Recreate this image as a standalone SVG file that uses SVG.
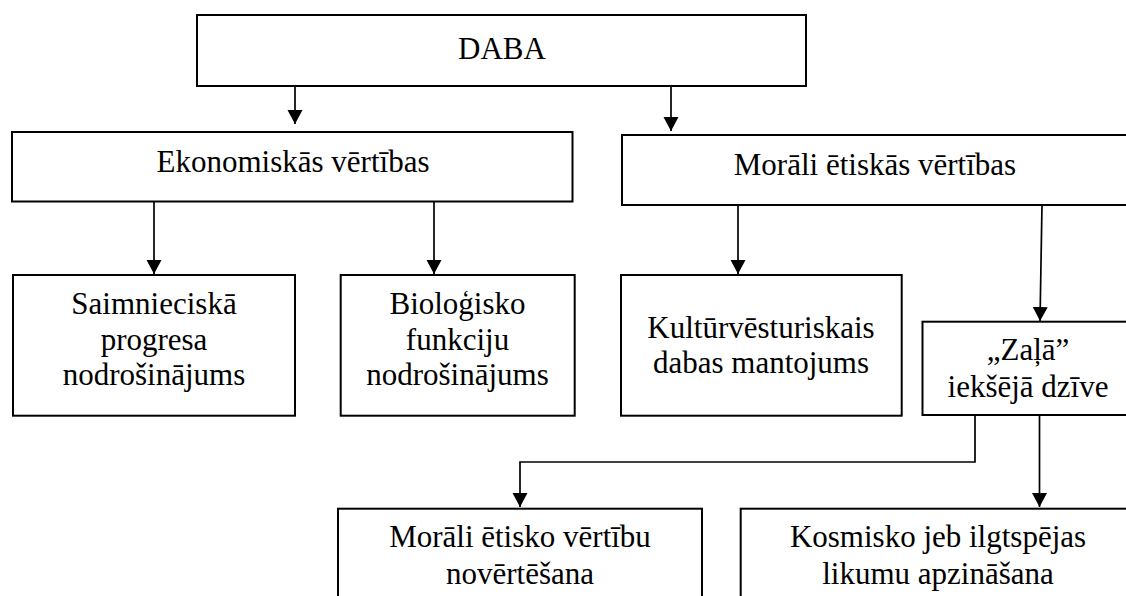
<svg xmlns="http://www.w3.org/2000/svg" width="1126" height="596" viewBox="0 0 1126 596">
<style>
.box{fill:#fff;stroke:#000;stroke-width:2}
.t{font-family:'Liberation Serif','DejaVu Serif',serif;font-size:31px;fill:#000;text-anchor:middle}
.c{fill:none;stroke:#000;stroke-width:1.7}
</style>
<defs>
<marker id="ah" markerUnits="userSpaceOnUse" markerWidth="15" markerHeight="16" refX="14" refY="7.5" orient="auto" viewBox="0 0 15 15">
<path d="M0,0 L14,7.5 L0,15 z" fill="#000"/>
</marker>
</defs>
<rect width="1126" height="596" fill="#fff"/>
<g id="connectors">
<line class="c" x1="295" y1="86" x2="295" y2="124" marker-end="url(#ah)"/>
<line class="c" x1="671" y1="86" x2="671" y2="131" marker-end="url(#ah)"/>
<line class="c" x1="154" y1="202" x2="154" y2="274" marker-end="url(#ah)"/>
<line class="c" x1="434" y1="202" x2="434" y2="274" marker-end="url(#ah)"/>
<line class="c" x1="738" y1="205" x2="738" y2="274" marker-end="url(#ah)"/>
<line class="c" x1="1042" y1="205" x2="1040" y2="321" marker-end="url(#ah)"/>
<polyline class="c" points="975,415 975,462 520,462 520,507" marker-end="url(#ah)"/>
<line class="c" x1="1039.5" y1="415" x2="1039.5" y2="507" marker-end="url(#ah)"/>
</g>
<g id="daba">
<rect class="box" x="197" y="15" width="609" height="71"/>
<text class="t" x="502" y="59" font-family="Liberation Serif">DABA</text>
</g>
<g id="ekonomiskas">
<rect class="box" x="12" y="132" width="560.5" height="69.5"/>
<text class="t" x="293" y="172">Ekonomiskās vērtības</text>
</g>
<g id="morali">
<rect class="box" x="622" y="135" width="508" height="70"/>
<text class="t" x="875" y="175">Morāli ētiskās vērtības</text>
</g>
<g id="saimnieciska">
<rect class="box" x="13" y="275" width="282" height="140.7"/>
<text class="t" x="154" y="314">Saimnieciskā</text>
<text class="t" x="154" y="350">progresa</text>
<text class="t" x="154" y="385">nodrošinājums</text>
</g>
<g id="biologisko">
<rect class="box" x="340.7" y="275" width="234" height="140.7"/>
<text class="t" x="457.5" y="314">Bioloģisko</text>
<text class="t" x="457.5" y="350">funkciju</text>
<text class="t" x="457.5" y="385">nodrošinājums</text>
</g>
<g id="kulturvesturiskais">
<rect class="box" x="621" y="275" width="280.7" height="140.7"/>
<text class="t" x="761" y="338">Kultūrvēsturiskais</text>
<text class="t" x="761" y="373">dabas mantojums</text>
</g>
<g id="zala">
<rect class="box" x="922.5" y="321.7" width="212" height="93.3"/>
<text class="t" x="1028" y="360">„Zaļā”</text>
<text class="t" x="1028" y="397">iekšējā dzīve</text>
</g>
<g id="novertesana">
<rect class="box" x="338" y="508.7" width="364" height="120"/>
<text class="t" x="520" y="547">Morāli ētisko vērtību</text>
<text class="t" x="520" y="584">novērtēšana</text>
</g>
<g id="kosmisko">
<rect class="box" x="740.7" y="508.7" width="400" height="120"/>
<text class="t" x="938" y="547">Kosmisko jeb ilgtspējas</text>
<text class="t" x="938" y="584">likumu apzināšana</text>
</g>
</svg>
